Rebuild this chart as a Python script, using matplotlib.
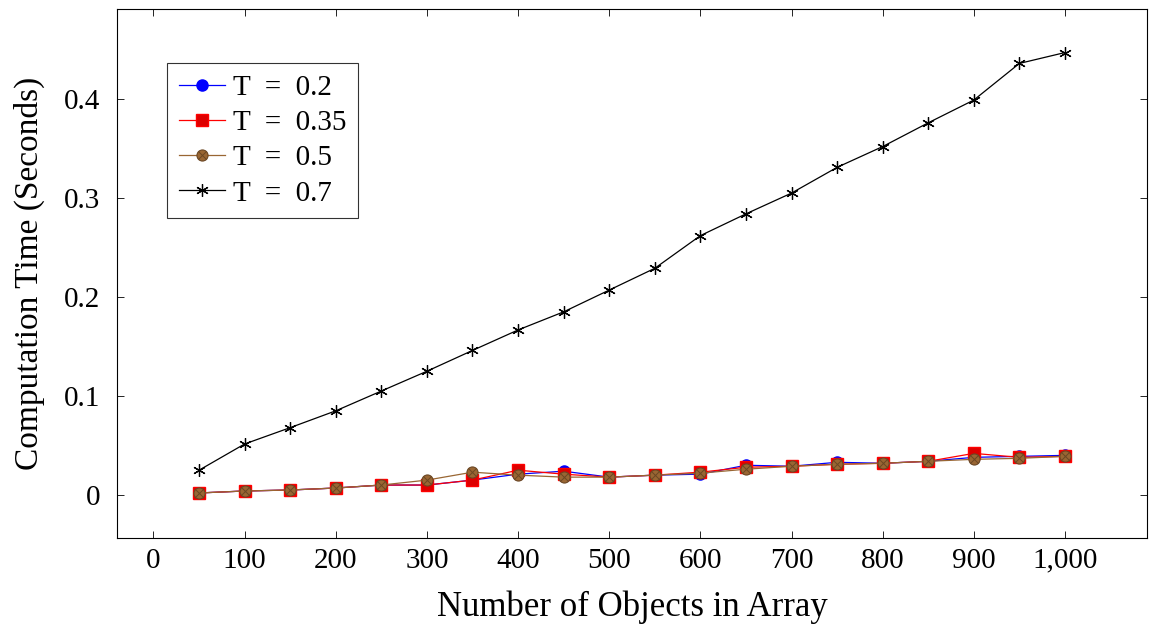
import matplotlib
matplotlib.use("Agg")
import matplotlib.pyplot as plt
from matplotlib.legend_handler import HandlerTuple
from matplotlib.ticker import FuncFormatter

x = [50, 100, 150, 200, 250, 300, 350, 400, 450, 500, 550, 600, 650, 700, 750, 800, 850, 900, 950, 1000]
t02 = [0.002, 0.004, 0.005, 0.007, 0.010, 0.010, 0.015, 0.021, 0.024, 0.018, 0.020, 0.021, 0.030, 0.029, 0.033, 0.032, 0.034, 0.038, 0.039, 0.040]
t035 = [0.002, 0.004, 0.005, 0.007, 0.010, 0.010, 0.015, 0.025, 0.021, 0.018, 0.020, 0.023, 0.028, 0.029, 0.031, 0.032, 0.034, 0.042, 0.038, 0.039]
t05 = [0.002, 0.004, 0.005, 0.007, 0.010, 0.015, 0.023, 0.020, 0.018, 0.018, 0.020, 0.022, 0.026, 0.029, 0.031, 0.032, 0.034, 0.036, 0.037, 0.039]
t07 = [0.025, 0.0515, 0.068, 0.085, 0.105, 0.125, 0.146, 0.1667, 0.185, 0.207, 0.229, 0.262, 0.284, 0.305, 0.331, 0.352, 0.376, 0.399, 0.436, 0.447]
labels = ["T  =  0.2", "T  =  0.35", "T  =  0.5", "T  =  0.7"]
xticks = [0, 100, 200, 300, 400, 500, 600, 700, 800, 900, 1000]
yticks = [0, 0.1, 0.2, 0.3, 0.4]

plt.rcParams['font.family'] = ['Liberation Serif', 'DejaVu Serif']

fig = plt.figure(figsize=(11.49, 6.31), dpi=100)
ax = fig.add_axes([117/1149, 1 - 538/631, (1147-117)/1149, (538-9)/631])

brown = '#996633'
l1, = ax.plot(x, t02, color='blue', lw=0.9, marker='o', ms=8, mfc='blue', mec='blue', zorder=3)
l2, = ax.plot(x, t035, color='red', lw=0.9, marker='s', ms=8, mfc='#dd0000', mec='red', zorder=4)
l3, = ax.plot(x, t05, color=brown, lw=0.9, marker='o', ms=8, mfc=brown, mec='#6b4724', mew=0.8, zorder=5)
l3x, = ax.plot(x, t05, ls='none', marker='x', ms=5.5, mec='#6b4724', mew=0.7, zorder=6)
l4, = ax.plot(x, t07, color='black', lw=0.9, marker=(6, 2, 0), ms=9, mec='black', mew=0.9, zorder=3)

ax.set_xlim(-40, 1090)
ax.set_ylim(-0.0435, 0.491)
ax.set_xticks(xticks)
ax.set_yticks(yticks)
ax.xaxis.set_major_formatter(FuncFormatter(lambda v, p: f"{int(v):,}"))
ax.yaxis.set_major_formatter(FuncFormatter(lambda v, p: "0" if v == 0 else f"{v:.1f}"))
ax.tick_params(direction='in', top=True, right=True, length=5, width=0.6, labelsize=21)
ax.tick_params(axis='x', pad=7)
ax.tick_params(axis='y', pad=12)
for s in ax.spines.values():
    s.set_linewidth(0.8)

ax.set_xlabel("Number of Objects in Array", fontsize=25, labelpad=12)
ax.set_ylabel("Computation Time (Seconds)", fontsize=24, labelpad=14)

leg = ax.legend([l1, l2, (l3, l3x), l4], labels,
                handler_map={tuple: HandlerTuple(ndivide=1, pad=0)},
                loc='upper left', bbox_to_anchor=(50/1030, 1 - 54/529),
                fontsize=21, frameon=True, fancybox=False, edgecolor='black',
                handlelength=1.6, handletextpad=0.25, borderpad=0.4, labelspacing=0.3,
                borderaxespad=0)
leg.get_frame().set_linewidth(0.8)

fig.savefig("out.png", dpi=100)
